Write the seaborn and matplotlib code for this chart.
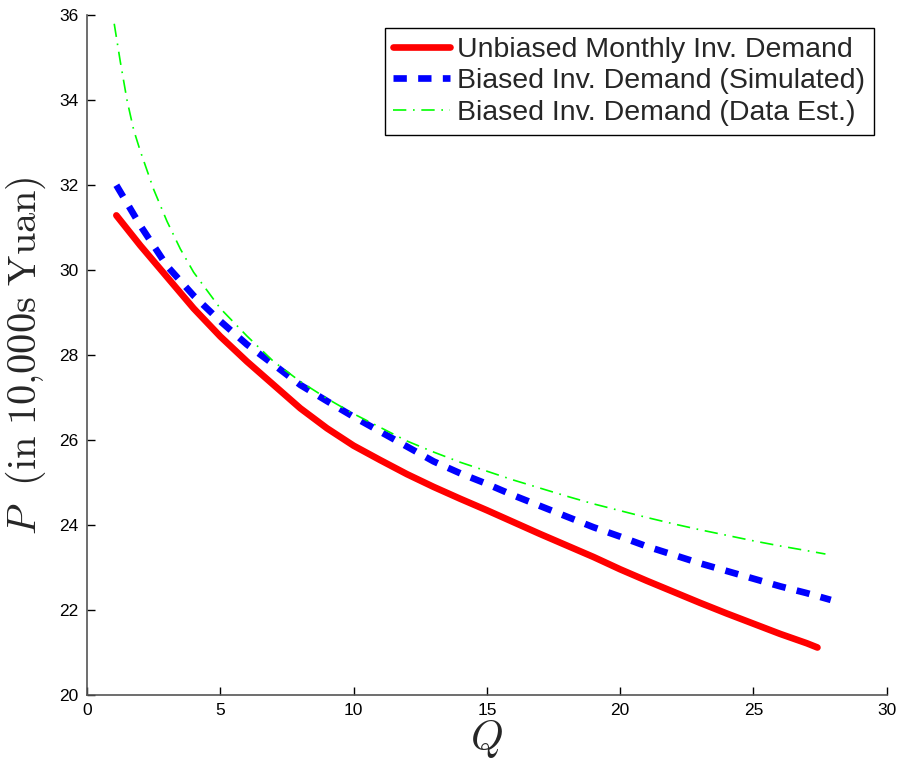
import numpy as np
import pandas as pd
import matplotlib
matplotlib.use("Agg")
import matplotlib.pyplot as plt
import seaborn as sns

# --- Data ---
q_unbiased = [1.1, 2, 3, 4, 5, 6, 7, 8, 9, 10, 11, 12, 13, 14, 15, 16, 17, 18, 19,
              20, 21, 22, 23, 24, 25, 26, 27, 27.4]
p_unbiased = [31.29, 30.58, 29.84, 29.1, 28.44, 27.85, 27.3, 26.75, 26.28, 25.87,
              25.53, 25.2, 24.9, 24.62, 24.35, 24.07, 23.79, 23.52, 23.25, 22.96,
              22.69, 22.43, 22.17, 21.92, 21.68, 21.44, 21.22, 21.12]

q_simulated = [1.1, 2, 3, 4, 5, 6, 7, 8, 9, 10, 11, 12, 13, 14, 15, 16, 17, 18, 19,
               20, 21, 22, 23, 24, 25, 26, 27, 27.9]
p_simulated = [32.0, 31.05, 30.1, 29.4, 28.8, 28.25, 27.78, 27.3, 26.92, 26.55,
               26.2, 25.85, 25.5, 25.22, 24.97, 24.7, 24.45, 24.2, 23.95, 23.73,
               23.5, 23.3, 23.1, 22.92, 22.74, 22.56, 22.4, 22.24]

q_estimated = [1.02, 1.25, 1.5, 1.75, 2, 2.5, 3, 3.5, 4, 5, 6, 7, 8, 9, 10, 11, 12,
               13, 14, 15, 16, 17, 18, 19, 20, 21, 22, 23, 24, 25, 26, 27, 27.7]
p_estimated = [35.8, 34.9, 34.0, 33.3, 32.8, 31.9, 31.15, 30.5, 29.95, 29.1, 28.45,
               27.85, 27.38, 26.98, 26.62, 26.3, 25.98, 25.72, 25.48, 25.27, 25.06,
               24.87, 24.68, 24.5, 24.34, 24.18, 24.03, 23.89, 23.76, 23.63, 23.51,
               23.4, 23.32]

series_labels = ["Unbiased Monthly Inv. Demand",
                 "Biased Inv. Demand (Simulated)",
                 "Biased Inv. Demand (Data Est.)"]

x_ticks = [0, 5, 10, 15, 20, 25, 30]
y_ticks = [20, 22, 24, 26, 28, 30, 32, 34, 36]

# --- Plot ---
sns.set_style("white")
plt.rcParams["font.family"] = ["Liberation Sans", "DejaVu Sans"]
plt.rcParams["mathtext.fontset"] = "cm"

fig = plt.figure(figsize=(9.01, 7.63), dpi=100)
ax = fig.add_axes([0.0966, 0.089, 0.8876, 0.891])

df_unbiased = pd.DataFrame({"Q": q_unbiased, "P": p_unbiased})
df_simulated = pd.DataFrame({"Q": q_simulated, "P": p_simulated})
df_estimated = pd.DataFrame({"Q": q_estimated, "P": p_estimated})

sns.lineplot(data=df_unbiased, x="Q", y="P", ax=ax, color="#ff0000",
             linewidth=4.8, label=series_labels[0], sort=False)
sns.lineplot(data=df_simulated, x="Q", y="P", ax=ax, color="#0000ff",
             linewidth=4.8, linestyle=(0, (2.0, 1.7)), label=series_labels[1], sort=False)
sns.lineplot(data=df_estimated, x="Q", y="P", ax=ax, color="#00ff00",
             linewidth=1.2, linestyle=(0, (8, 4, 1, 4)), label=series_labels[2], sort=False)

ax.set_xlim(0, 30)
ax.set_ylim(20, 36)
ax.set_xticks(x_ticks)
ax.set_yticks(y_ticks)
ax.tick_params(direction="in", length=6, width=1, labelsize=12.5, colors="#000000",
               top=False, right=False, bottom=True, left=True, pad=6)
for side in ["top", "right"]:
    ax.spines[side].set_visible(False)
for side in ["left", "bottom"]:
    ax.spines[side].set_color("#555555")
    ax.spines[side].set_linewidth(1.2)

ax.set_xlabel(r"$Q$", fontsize=30, labelpad=0)
ax.set_ylabel(r"$P\ \ \mathrm{(in\ 10{,}000s\ Yuan)}$", fontsize=29, labelpad=8)

leg = ax.legend(loc="upper right", fontsize=20.5, frameon=True, fancybox=False,
                framealpha=1, edgecolor="black", handlelength=2.0,
                handletextpad=0.25, borderpad=0.3, labelspacing=0.2,
                borderaxespad=0.45)
leg.get_frame().set_linewidth(1.0)

fig.savefig("out.png", dpi=100)
